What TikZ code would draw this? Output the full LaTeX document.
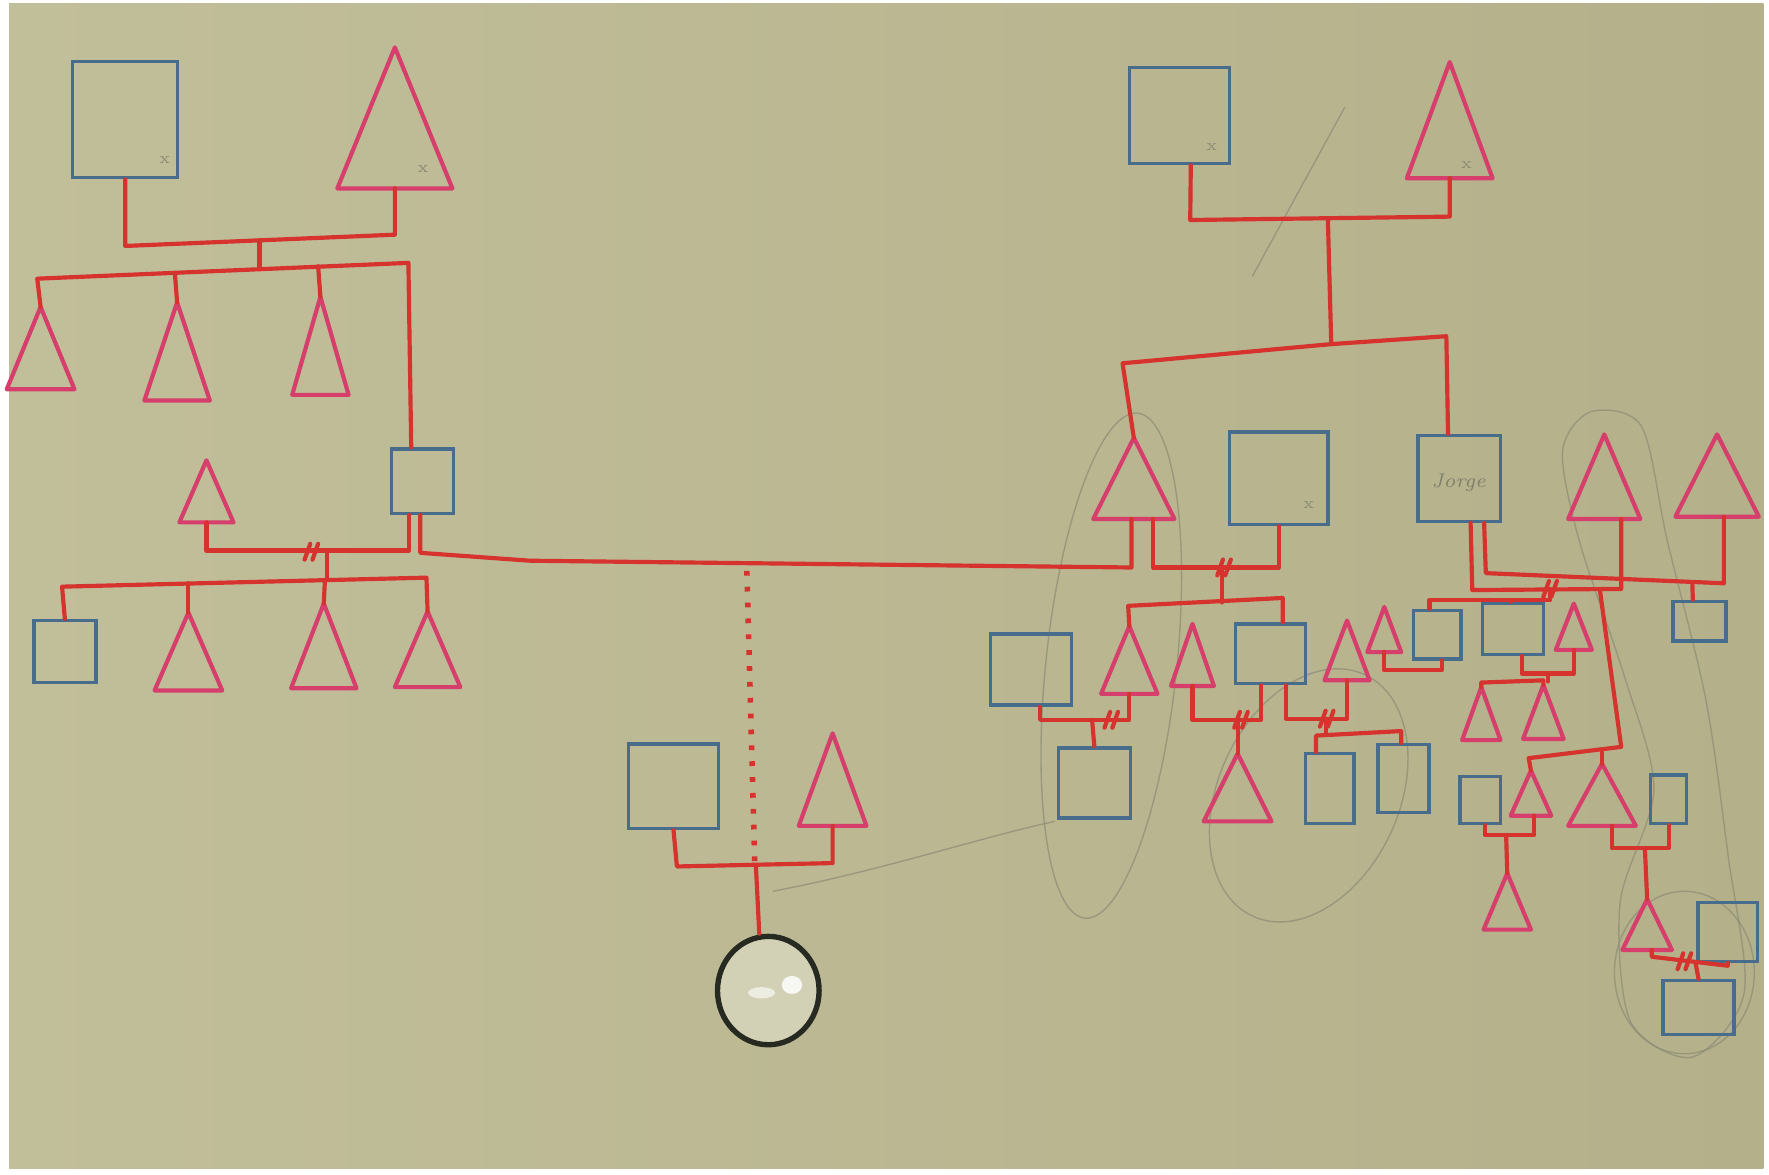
\documentclass[tikz,border=0pt]{standalone}
\usetikzlibrary{calc,shapes.geometric}
\definecolor{kinred}{RGB}{214,50,46}
\definecolor{fempink}{RGB}{214,62,108}
\definecolor{maleblue}{RGB}{72,108,140}
\definecolor{bgL}{RGB}{193,191,154}
\definecolor{bgM}{RGB}{203,201,168}
\definecolor{bgR}{RGB}{180,176,138}
\definecolor{pencil}{RGB}{140,140,118}
\definecolor{circblack}{RGB}{38,42,32}
\tikzset{
  kin/.style={draw=kinred, line width=1.05pt, line join=round, line cap=round},
  fem/.style={draw=fempink, line width=1.05pt, line join=round},
  male/.style={draw=maleblue, line width=0.85pt, rectangle, inner sep=0pt},
  pencilline/.style={draw=pencil, line width=0.35pt, opacity=0.7},
  dotline/.style={draw=kinred, line width=1.4pt, dash pattern=on 1.2pt off 2.8pt},
  tiny/.style={text=pencil, font=\fontsize{4}{5}\selectfont, inner sep=0pt},
  divmark/.pic={\draw[kin] (-6,7) -- (-1,-7); \draw[kin] (1,7) -- (6,-7);}
}
% female triangle: name, apex x, apex y, half base, height
\newcommand{\femtri}[5]{%
  \coordinate (#1) at (#2,#3);
  \coordinate (#1-b) at (#2,#3+#5);
  \draw[fem] (#2,#3) -- (#2+#4,#3+#5) -- (#2-#4,#3+#5) -- cycle;
}
\begin{document}
\begin{tikzpicture}[x=0.01cm,y=-0.01cm]
\useasboundingbox (0,0) rectangle (1568,1041);
\fill[white] (0,0) rectangle (1568,1041);
\shade[left color=bgL, middle color=bgM, right color=bgR] (8,3) rectangle (1563,1036);

% ---------------- pencil marks ----------------
\draw[pencilline] (1110,245) -- (1192,95);
\draw[pencilline] (685,790) .. controls (780,772) and (870,742) .. (935,728);
\draw[pencilline, rotate around={-6:(985,590)}] (985,590) ellipse (58 and 225);
\draw[pencilline, rotate around={-25:(1160,705)}] (1160,705) ellipse (80 and 118);
\draw[pencilline] plot[smooth cycle] coordinates {(1410,365) (1455,378) (1478,480) (1512,620) (1532,760) (1546,880) (1500,937) (1445,905) (1436,800) (1466,700) (1440,600) (1400,480) (1385,400)};
\draw[pencilline] (1493,862) ellipse (62 and 72);

% ---------------- left family ----------------
\node[male, minimum width=0.93cm, minimum height=1.03cm] (s1) at (111,106) {};
\femtri{t1}{350}{42}{51}{125}
\node[tiny] (x1) at (146,142) {x};
\node[tiny] (x2) at (375,150) {x};
\draw[kin] (s1.south) -- (111,218) -- (350,208) -- (t1-b);
\draw[kin] (230,213) -- (230,237);
\femtri{t2}{36}{272}{30}{73}
\femtri{t3}{157}{268}{29}{87}
\femtri{t4}{284}{263}{25}{87}
\node[male, minimum width=0.55cm, minimum height=0.57cm] (s2) at (374.5,426.5) {};
\draw[kin] (t2) -- (33,247) -- (362,233) -- ($(s2.north)+(-10,0)$);
\draw[kin] (155,242) -- (t3);
\draw[kin] (282,236) -- (t4);
\femtri{t5}{183}{408}{24}{55}
\draw[kin] ($(s2.south)+(-12,0)$) -- (362.5,488) -- (183,488) -- (t5-b);
\pic at (276,489) {divmark};
\draw[kin] (290,488) -- (290,514);
\node[male, minimum width=0.55cm, minimum height=0.55cm] (s3) at (57.5,577.5) {};
\femtri{t6}{167}{543}{30}{69}
\femtri{t7}{287}{535}{29}{75}
\femtri{t8}{379}{542}{29}{67}
\draw[kin] (s3.north) -- (55,520) -- (378,512) -- (t8);
\draw[kin] (167,517) -- (t6);
\draw[kin] (288,514) -- (t7);

% long line to the right family
\femtri{t11}{1005}{388}{36}{72}
\draw[kin] ($(s2.south)+(-2,0)$) -- (372.5,490) -- (470,497) -- (1003,503) -- ($(t11-b)+(-2,0)$);

% ---------------- middle ----------------
\draw[dotline] (662,506) -- (669,764);
\node[male, minimum width=0.80cm, minimum height=0.75cm] (s4) at (597,697) {};
\femtri{t9}{738}{650}{30}{82}
\draw[kin] (s4.south) -- (600,768) -- (738,765) -- (t9-b);
\node[draw=circblack, line width=1.35pt, ellipse, minimum width=0.9cm, minimum height=0.96cm, inner sep=0pt, fill=bgM!85!white] (c1) at (681,878) {};
\draw[kin] (670,767) -- ($(c1.north)+(-8,0)$);
\fill[white, opacity=0.85] (702,873) ellipse (9 and 8);
\fill[white, opacity=0.6] (675,880) ellipse (12 and 5);

% ---------------- right family, top ----------------
\node[male, minimum width=0.89cm, minimum height=0.85cm] (s5) at (1045.5,102.5) {};
\femtri{t10}{1285}{55}{38}{103}
\node[tiny] (x3) at (1074,130) {x};
\node[tiny] (x4) at (1300,146) {x};
\draw[kin] ($(s5.south)+(10,0)$) -- (1055,195) -- (1285,192) -- (t10-b);
\draw[kin] (1177,194) -- (1180,305);
\node[male, minimum width=0.73cm, minimum height=0.76cm] (s12) at (1293.5,424) {};
\node[text=pencil!90!black, font=\fontsize{5}{6}\selectfont\itshape, inner sep=0pt] (jorge) at (1293,428) {Jorge};
\draw[kin] (t11) -- (995,322) -- (1180,305) -- (1282,298) -- ($(s12.north)+(-10,0)$);
\node[male, minimum width=0.87cm, minimum height=0.82cm] (s6) at (1133.5,424) {};
\node[tiny] (x5) at (1160,448) {x};
\draw[kin] ($(t11-b)+(17,0)$) -- (1022,503) -- (1133.5,503) -- (s6.south);
\pic at (1085,503) {divmark};
\draw[kin] (1083,503) -- (1083,534);

% generation below
\femtri{t12}{1001}{555}{25}{60}
\femtri{t13}{1057}{553}{19}{55}
\node[male, minimum width=0.62cm, minimum height=0.53cm] (s7) at (1126,579.5) {};
\draw[kin] (t12) -- (1000,537) -- (1137,530) -- ($(s7.north)+(11,0)$);
\node[male, minimum width=0.72cm, minimum height=0.63cm] (s8) at (914,593.5) {};
\draw[kin] ($(s8.south)+(8,0)$) -- (922,638) -- (1001,638) -- (t12-b);
\pic at (985,638) {divmark};
\node[male, minimum width=0.64cm, minimum height=0.62cm] (s9) at (970,694) {};
\draw[kin] (968,638) -- (s9.north);
\draw[kin] (t13-b) -- (1057,638) -- (1118,638) -- ($(s7.south)+(-8,0)$);
\pic at (1100,638) {divmark};
\femtri{t14}{1097}{668}{30}{60}
\draw[kin] (1097,638) -- (t14);
\femtri{t15}{1194}{550}{20}{53}
\draw[kin] ($(s7.south)+(14,0)$) -- (1140,637) -- (1194,637) -- (t15-b);
\pic at (1176,637) {divmark};
\draw[kin] (1175,637) -- (1175,651);
\node[male, minimum width=0.43cm, minimum height=0.62cm] (s10) at (1178.5,699) {};
\node[male, minimum width=0.45cm, minimum height=0.60cm] (s11) at (1244,690) {};
\draw[kin] ($(s10.north)+(-12,0)$) -- (1166.5,652) -- (1242,648) -- ($(s11.north)+(-2,0)$);

% ---------------- Jorge's branch ----------------
\femtri{t16}{1422}{385}{32}{75}
\femtri{t17}{1522}{385}{37}{73}
\draw[kin] ($(s12.south)+(10,0)$) -- (1305,523) -- (1437,522) -- ($(t16-b)+(15,0)$);
\draw[kin] ($(s12.south)+(22,0)$) -- (1317,508) -- (1528,517) -- ($(t17-b)+(6,0)$);
\node[male, minimum width=0.47cm, minimum height=0.35cm] (s13) at (1506.5,550.5) {};
\draw[kin] (1500,516) -- ($(s13.north)+(-6,0)$);
\pic at (1374,522) {divmark};
\node[male, minimum width=0.42cm, minimum height=0.43cm] (s14) at (1274,562.5) {};
\node[male, minimum width=0.54cm, minimum height=0.45cm] (s15) at (1341,557.5) {};
\draw[kin] (1374,522) -- (1374,532) -- (1267,532) -- ($(s14.north)+(-7,0)$);
\draw[kin] (1339,532) -- ($(s15.north)+(-2,0)$);
\femtri{t18}{1227}{538}{15}{40}
\draw[kin] (t18-b) -- (1227,594) -- (1278,594) -- ($(s14.south)+(4,0)$);
\femtri{t19}{1395}{535}{16}{41}
\draw[kin] ($(s15.south)+(8,0)$) -- (1349,597) -- (1395,597) -- (t19-b);
\draw[kin] (1372,597) -- (1372,604);
\femtri{t20}{1313}{609}{17}{47}
\femtri{t21}{1368}{607}{18}{48}
\draw[kin] (t20) -- (1313,605) -- (1368,603) -- (t21);

% lower right
\femtri{t22}{1357}{683}{18}{40}
\femtri{t23}{1420}{677}{30}{55}
\draw[kin] (1418,522) -- (1437,662) -- (1355,672) -- (t22);
\draw[kin] (1420,667) -- (t23);
\node[male, minimum width=0.36cm, minimum height=0.42cm] (s16) at (1312,709) {};
\node[male, minimum width=0.32cm, minimum height=0.43cm] (s17) at (1479,708.5) {};
\draw[kin] ($(s16.south)+(4,0)$) -- (1316,740) -- (1360,740) -- ($(t22-b)+(3,0)$);
\femtri{t24}{1336}{774}{21}{50}
\draw[kin] (1335,740) -- (t24);
\draw[kin] ($(t23-b)+(9,0)$) -- (1429,752) -- (1479,752) -- (s17.south);
\femtri{t25}{1460}{797}{22}{45}
\draw[kin] (1458,752) -- (t25);
\node[male, minimum width=0.53cm, minimum height=0.52cm] (s18) at (1531.5,826) {};
\draw[kin] ($(t25-b)+(4,0)$) -- (1464,848) -- (1531.5,856) -- (s18.south);
\pic at (1493,852) {divmark};
\node[male, minimum width=0.63cm, minimum height=0.48cm] (s19) at (1505.5,893) {};
\draw[kin] (1503,854) -- (s19.north);
\end{tikzpicture}
\end{document}
